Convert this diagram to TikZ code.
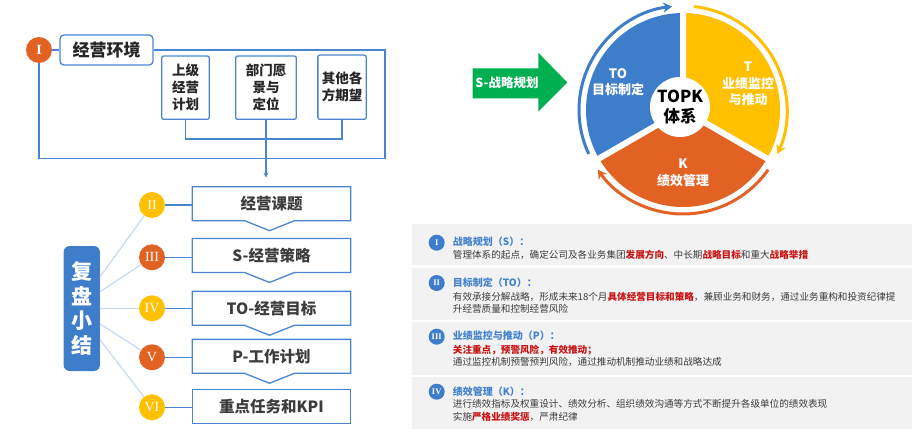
\documentclass[tikz,border=0pt]{standalone}
\usepackage{fontspec}
\setmainfont{Noto Sans CJK SC}
\newfontfamily\romanfont{Liberation Serif}
\usetikzlibrary{arrows.meta}
\definecolor{pblue}{RGB}{61,125,202}
\definecolor{lblue}{RGB}{74,134,208}
\definecolor{pyellow}{RGB}{255,192,0}
\definecolor{porange}{RGB}{226,98,36}
\definecolor{pgreen}{RGB}{0,176,80}
\definecolor{pgray}{RGB}{242,242,242}
\definecolor{tblue}{RGB}{66,130,206}
\definecolor{tred}{RGB}{200,20,20}
\definecolor{tgray}{RGB}{60,60,60}
\definecolor{tdark}{RGB}{38,38,38}
\definecolor{faint}{RGB}{197,217,241}
\newcommand{\fsz}[2]{\fontsize{#1}{#2}\selectfont}
\newcommand{\rd}[1]{\textbf{\textcolor{tred}{#1}}}
\begin{document}
\begin{tikzpicture}[x=1pt,y=-1pt,
  rnum/.style={circle,minimum size=26pt,inner sep=0pt,text=white,font=\romanfont\fsz{14}{14}},
  pnum/.style={circle,fill=pblue,minimum size=16pt,inner sep=0pt,text=white,font=\romanfont\bfseries\fsz{8.5}{8.5}},
  envbox/.style={draw=lblue,line width=1.3pt,rounded corners=4pt,fill=white,inner sep=0pt},
  subbox/.style={draw=lblue,line width=1.3pt,rounded corners=2pt,inner sep=0pt,align=center,font=\bfseries\fsz{13.5}{17},text=tdark},
  lineb/.style={lblue,line width=1.3pt},
  stepbox/.style={minimum width=158pt,minimum height=33.5pt,inner sep=0pt,font=\bfseries\fsz{15.5}{16},text=tgray},
  stepline/.style={draw=lblue,line width=1.3pt},
  faintline/.style={faint,line width=1.2pt},
  panel/.style={fill=pgray,minimum width=500pt,inner sep=0pt},
  ptitle/.style={anchor=west,inner sep=0pt,text=tblue,font=\bfseries\fsz{10}{10}},
  pbody/.style={anchor=west,inner sep=0pt,text=tgray,font=\fsz{9.6}{10}},
  pielabel/.style={text=white,font=\bfseries\fsz{13}{16.5},align=center,inner sep=0pt},
  ringarrow/.style={line width=3pt,-{Stealth[length=9pt,width=10pt]}}
]
\useasboundingbox (0,0) rectangle (918,441);

% ---------- top-left: environment ----------
\node[rnum,fill=porange,font=\romanfont\bfseries\fsz{14}{14}] (ci1) at (39,50) {I};
\node[envbox,minimum width=93pt,minimum height=30pt,font=\bfseries\fsz{17}{17},text=tdark] (env) at (106.5,50) {经营环境};
\draw[lineb] (ci1) -- (env);
\draw[lineb] (env.east) -| (385,158.3) -| (ci1.south);
\node[subbox,minimum width=47.6pt,minimum height=63.3pt] (b1) at (185.5,87.7) {上级\\经营\\计划};
\node[subbox,minimum width=60.6pt,minimum height=63.3pt] (b2) at (266,87.7) {部门愿\\景与\\定位};
\node[subbox,minimum width=48.3pt,minimum height=64.3pt] (b3) at (342,87.2) {其他各\\方期望};
\coordinate (bj) at (266,139);
\draw[lineb] (b1.south) |- (bj) -| (b3.south);
\coordinate (arr) at (266,177.5);
\draw[lineb,line width=1.1pt,-{Stealth[length=5pt,width=5pt]}] (b2.south) -- (arr);

% ---------- steps ----------
\node[stepbox] (s1) at (271.5,203.7) {经营课题};
\node[stepbox] (s2) at (271.5,255.5) {S-经营策略};
\node[stepbox] (s3) at (271.5,308.3) {TO-经营目标};
\node[stepbox] (s4) at (271.5,356.3) {P-工作计划};
\node[stepbox] (s5) at (271.5,406.2) {重点任务和KPI};
\foreach \s in {s1,s2,s3,s4}{
  \draw[stepline] (\s.north west) -- (\s.north east) -- (\s.south east) -- ([xshift=23pt]\s.south) -- ([yshift=-10pt,xshift=-2pt]\s.south) -- ([xshift=-27pt]\s.south) -- (\s.south west) -- cycle;
}
\draw[stepline] (s5.north west) rectangle (s5.south east);

\node[rnum,fill=pyellow] (c2) at (152,205) {II};
\node[rnum,fill=porange] (c3) at (152,257.3) {III};
\node[rnum,fill=pyellow] (c4) at (152,308.3) {IV};
\node[rnum,fill=porange] (c5) at (152,357.3) {V};
\node[rnum,fill=pyellow] (c6) at (152,407.3) {VI};
\draw[lineb] (c2) -- (c2 -| s1.west);
\draw[lineb] (c3) -- (c3 -| s2.west);
\draw[lineb] (c4) -- (c4 -| s3.west);
\draw[lineb] (c5) -- (c5 -| s4.west);
\draw[lineb] (c6) -- (c6 -| s5.west);

\node[fill=pblue,rounded corners=6pt,minimum width=36.3pt,minimum height=125pt,inner sep=0pt,text=white,font=\bfseries\fsz{21}{24.4},align=center] (sum) at (81.8,308.5) {复\\盘\\小\\结};
\draw[faintline] ([yshift=31.8pt]sum.east) -- (c2);
\draw[faintline] ([yshift=16.8pt]sum.east) -- (c3);
\draw[faintline] (sum.east) -- (c4);
\draw[faintline] ([yshift=-15.5pt]sum.east) -- (c5);
\draw[faintline] ([yshift=-31.5pt]sum.east) -- (c6);

% ---------- green arrow ----------
\fill[pgreen] (472.7,68.3) -- (538.3,68.3) -- (538.3,52.7) -- (567.3,82.5) -- (538.3,111.7) -- (538.3,98.3) -- (472.7,98.3) -- cycle;
\node[text=white,font=\bfseries\fsz{12.5}{12.5}] (sa) at (507,83) {S-战略规划};

% ---------- pie ----------
\begin{scope}[shift={(683,110)},y=1pt]
  \fill[pblue] (0,0) -- (90:97) arc[start angle=90,end angle=210,radius=97] -- cycle;
  \fill[pyellow] (0,0) -- (-30:97) arc[start angle=-30,end angle=90,radius=97] -- cycle;
  \fill[porange] (0,0) -- (210:97) arc[start angle=210,end angle=330,radius=97] -- cycle;
  \draw[white,line width=6pt] (0,0) -- (90:100) (0,0) -- (210:100) (0,0) -- (-30:100);
  \node[circle,fill=white,minimum size=60pt,inner sep=0pt,font=\bfseries\fsz{16.5}{20.5},align=center,text=black] (topk) at (-3,3) {TOPK\\体系};
  \draw[ringarrow,pblue] (205:104) arc[start angle=205,end angle=96,radius=104];
  \draw[ringarrow,pyellow] (84:104) arc[start angle=84,end angle=-25,radius=104];
  \draw[ringarrow,porange] (-35:104) arc[start angle=-35,end angle=-145,radius=104];
  \node[pielabel] (lto) at (-65,28) {TO\\目标制定};
  \node[pielabel] (lt) at (65,26) {T\\业绩监控\\与推动};
  \node[pielabel] (lk) at (0,-63) {K\\绩效管理};
\end{scope}

% ---------- panels ----------
\node[panel,minimum height=41pt] (p1) at (662,244.5) {};
\node[panel,minimum height=52pt] (p2) at (662,294) {};
\node[panel,minimum height=53pt] (p3) at (662,348.5) {};
\node[panel,minimum height=52pt] (p4) at (662,403) {};

\node[pnum] (n1) at (436.7,242.7) {I};
\node[pnum] (n2) at (436.7,283) {II};
\node[pnum] (n3) at (436.7,336.7) {III};
\node[pnum] (n4) at (436.7,391.7) {IV};

\node[ptitle] (t1) at (452.7,241.7) {战略规划（S）：};
\node[pbody] (t1a) at (452.7,255) {管理体系的起点，确定公司及各业务集团\rd{发展方向}、中长期\rd{战略目标}和重大\rd{战略举措}};

\node[ptitle] (t2) at (452.7,282.7) {目标制定（TO）：};
\node[pbody] (t2a) at (452.7,296.7) {有效承接分解战略，形成未来18个月\rd{具体经营目标和策略}，兼顾业务和财务，通过业务重构和投资纪律提};
\node[pbody] (t2b) at (452.7,308.5) {升经营质量和控制经营风险};

\node[ptitle] (t3) at (452.7,335.7) {业绩监控与推动（P）：};
\node[pbody] (t3a) at (452.7,350) {\rd{关注重点，预警风险，有效推动；}};
\node[pbody] (t3b) at (452.7,361.7) {通过监控机制预警预判风险，通过推动机制推动业绩和战略达成};

\node[ptitle] (t4) at (452.7,391.7) {绩效管理（K）：};
\node[pbody] (t4a) at (452.7,404.3) {进行绩效指标及权重设计、绩效分析、组织绩效沟通等方式不断提升各级单位的绩效表现};
\node[pbody] (t4b) at (452.7,417) {实施\rd{严格业绩奖惩}，严肃纪律};
\end{tikzpicture}
\end{document}
